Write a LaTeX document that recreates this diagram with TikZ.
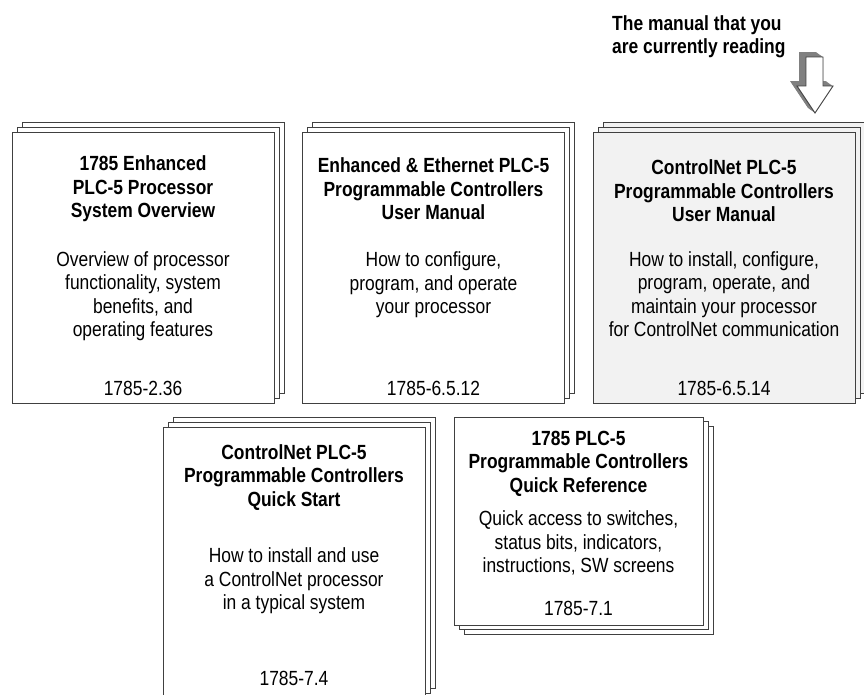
\documentclass[tikz,border=0pt]{standalone}
\usepackage{fontspec}
\setmainfont{Liberation Sans}[FakeStretch=0.85]
\usetikzlibrary{positioning,shadows}

\tikzstyle{page}=[draw=black!75,line width=0.9pt,fill=white,inner sep=0pt,minimum width=262pt,minimum height=271pt]
\tikzstyle{stackup}=[copy shadow={shadow xshift=10pt,shadow yshift=10pt},copy shadow={shadow xshift=5pt,shadow yshift=5pt}]
\tikzstyle{stackdown}=[copy shadow={shadow xshift=10pt,shadow yshift=-9pt},copy shadow={shadow xshift=5pt,shadow yshift=-4.5pt}]
\tikzstyle{title}=[align=center,inner sep=0pt,font=\fontsize{20.5}{23.5}\selectfont\bfseries]
\tikzstyle{descr}=[align=center,inner sep=0pt,font=\fontsize{20.5}{23.5}\selectfont]

\begin{document}
\begin{tikzpicture}[x=1pt,y=-1pt]
	\clip (0,0) rectangle (864,694);
	
	% top row
	\node[page,stackup] (sysov) at (143,267.5) {};
	\node[page,stackup] (enhum) at (433.5,267.5) {};
	\node[page,stackup,fill=black!5] (cnetum) at (724,267.5) {};
	
	\node[title] (sysovt) at (143,189) {1785 Enhanced\\PLC-5 Processor\\System Overview};
	\node[descr] (sysovd) at (143,296) {Overview of processor\\functionality, system\\benefits, and\\operating features};
	\node[descr] (sysovn) at (143,388) {1785-2.36};
	
	\node[title] (enhumt) at (433.5,189) {Enhanced \& Ethernet PLC-5\\Programmable Controllers\\User Manual};
	\node[descr] (enhumd) at (433.5,285) {How to configure,\\program, and operate\\your processor};
	\node[descr] (enhumn) at (433.5,388) {1785-6.5.12};
	
	\node[title] (cnetumt) at (724,191) {ControlNet PLC-5\\Programmable Controllers\\User Manual};
	\node[descr] (cnetumd) at (724,294) {How to install, configure,\\program, operate, and\\maintain your processor\\for ControlNet communication};
	\node[descr] (cnetumn) at (724,388) {1785-6.5.14};
	
	% bottom row
	\node[page,stackup] (cnetqs) at (294,562.5) {};
	\node[page,stackdown,minimum width=249pt,minimum height=208pt] (quickref) at (578.5,521) {};
	
	\node[title] (cnetqst) at (294,477.5) {ControlNet PLC-5\\Programmable Controllers\\Quick Start};
	\node[descr] (cnetqsd) at (294,581) {How to install and use\\a ControlNet processor\\in a typical system};
	\node[descr] (cnetqsn) at (294,678) {1785-7.4};
	
	\node[title] (quickreft) at (578.5,463.5) {1785 PLC-5\\Programmable Controllers\\Quick Reference};
	\node[descr] (quickrefd) at (578.5,543) {Quick access to switches,\\status bits, indicators,\\instructions, SW screens};
	\node[descr] (quickrefn) at (578.5,608) {1785-7.1};
	
	% pointer to this manual
	\node[title,align=left,anchor=west] (reading) at (612,36.5) {The manual that you\\are currently reading};
	\foreach \d in {0,0.5,...,7}
		\fill[black!50,shift={(-\d,-\d*5/7)}] (806,57) -- (823,57) -- (823,86) -- (833,86) -- (815,113) -- (797,86) -- (806,86) -- cycle;
	\draw[black!75,line width=0.9pt,fill=white] (806,57) -- (823,57) -- (823,86) -- (833,86) -- (815,113) -- (797,86) -- (806,86) -- cycle;
\end{tikzpicture}
\end{document}
